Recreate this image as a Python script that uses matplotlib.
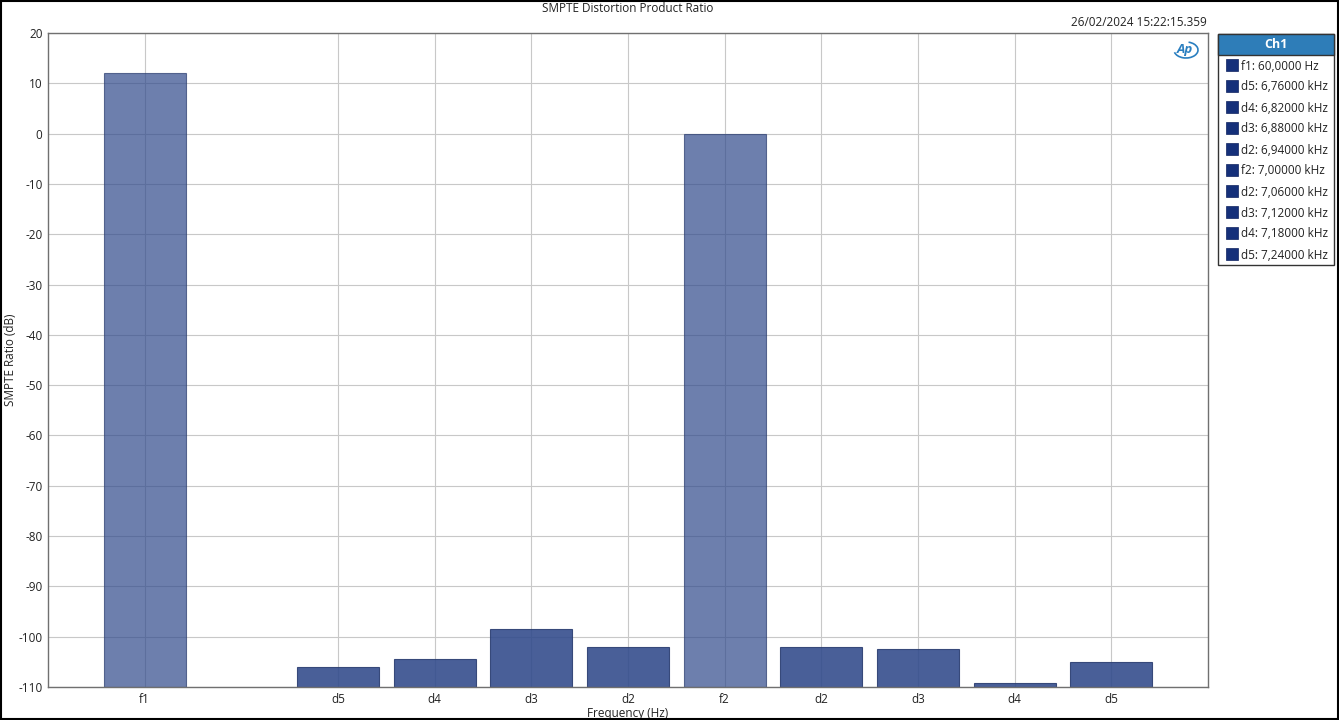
import matplotlib
matplotlib.use("Agg")
import matplotlib.pyplot as plt
from matplotlib.patches import Rectangle, Arc

plt.rcParams['font.family'] = ['Open Sans', 'DejaVu Sans']
plt.rcParams['axes.unicode_minus'] = False

# ---- data ----
categories = ["f1", "d5", "d4", "d3", "d2", "f2", "d2", "d3", "d4", "d5"]
positions = [0, 2, 3, 4, 5, 6, 7, 8, 9, 10]
values = [12.0, -106.0, -104.4, -98.5, -102.0, -0.1, -102.0, -102.4, -109.2, -105.0]
is_fundamental = [True, False, False, False, False, True, False, False, False, False]
legend_labels = ["f1: 60,0000 Hz", "d5: 6,76000 kHz", "d4: 6,82000 kHz", "d3: 6,88000 kHz",
                 "d2: 6,94000 kHz", "f2: 7,00000 kHz", "d2: 7,06000 kHz", "d3: 7,12000 kHz",
                 "d4: 7,18000 kHz", "d5: 7,24000 kHz"]
yticks = list(range(-110, 21, 10))
title = "SMPTE Distortion Product Ratio"
timestamp = "26/02/2024 15:22:15.359"

W, H = 1339, 720
fig = plt.figure(figsize=(W / 100, H / 100), dpi=100)
ax = fig.add_axes([48 / W, 1 - 687 / H, (1208 - 48) / W, (687 - 33) / H])

ybase = -110
for p, v, f in zip(positions, values, is_fundamental):
    ax.bar(p, v - ybase, bottom=ybase, width=0.85, color="#324B8C",
           alpha=0.71 if f else 0.89,
           edgecolor="#2A3D70", linewidth=0.8, zorder=2)

ax.set_xlim(-1, 11)
ax.set_ylim(-110, 20)
ax.set_xticks(positions)
ax.set_xticklabels(categories)
ax.set_yticks(yticks)
ax.tick_params(axis="both", length=0, labelsize=8.5, colors="#222222", pad=4)
ax.grid(True, color="#C8C8C8", linewidth=0.8, zorder=0)
ax.set_axisbelow(True)
for s in ax.spines.values():
    s.set_color("#707070")
    s.set_linewidth(1.0)
    s.set_zorder(4)

ax.set_xlabel("Frequency (Hz)", fontsize=8.5, labelpad=1, color="#222222")
fig.text(11 / W, 1 - 360 / H, "SMPTE Ratio (dB)", rotation=90, ha="center", va="center",
         fontsize=8.5, color="#222222")

fig.text(628 / W, 1 - 8 / H, title, ha="center", va="center", fontsize=8.5, color="#222222")
fig.text(1207 / W, 1 - 22 / H, timestamp, ha="right", va="center", fontsize=8.5, color="#222222")

# AP logo
fig.text(1185 / W, 1 - 49 / H, "Ap", ha="center", va="center", fontsize=9.5,
         fontweight="bold", fontstyle="italic", color="#2A7FC0")
fig.patches.append(Arc((1186 / W, 1 - 50 / H), 24 / W, 16 / H, theta1=200, theta2=80,
                       transform=fig.transFigure, color="#2A7FC0", linewidth=1.2))

# legend box
lx0, lx1, ly0, ly1 = 1218, 1334, 34, 265
fig.patches.append(Rectangle((lx0 / W, 1 - ly1 / H), (lx1 - lx0) / W, (ly1 - ly0) / H,
                             transform=fig.transFigure, facecolor="white",
                             edgecolor="#333333", linewidth=1.0))
fig.patches.append(Rectangle((lx0 / W, 1 - 55 / H), (lx1 - lx0) / W, 21 / H,
                             transform=fig.transFigure, facecolor="#2E7DB8",
                             edgecolor="#333333", linewidth=1.0))
fig.text((lx0 + lx1) / 2 / W, 1 - 44.5 / H, "Ch1", ha="center", va="center",
         fontsize=9, fontweight="bold", color="white")
for i, lab in enumerate(legend_labels):
    yc = 65 + 21 * i
    fig.patches.append(Rectangle((1226 / W, 1 - (yc + 6) / H), 12 / W, 12 / H,
                                 transform=fig.transFigure, facecolor="#15307A",
                                 edgecolor="#0E2260", linewidth=0.5))
    fig.text(1241 / W, 1 - (yc + 1) / H, lab, ha="left", va="center", fontsize=8.5, color="#222222")

# figure border
fig.patches.append(Rectangle((0.0005, 0.001), 0.999, 0.998, transform=fig.transFigure,
                             facecolor="none", edgecolor="black", linewidth=1.5))

fig.savefig("out.png", dpi=100)
